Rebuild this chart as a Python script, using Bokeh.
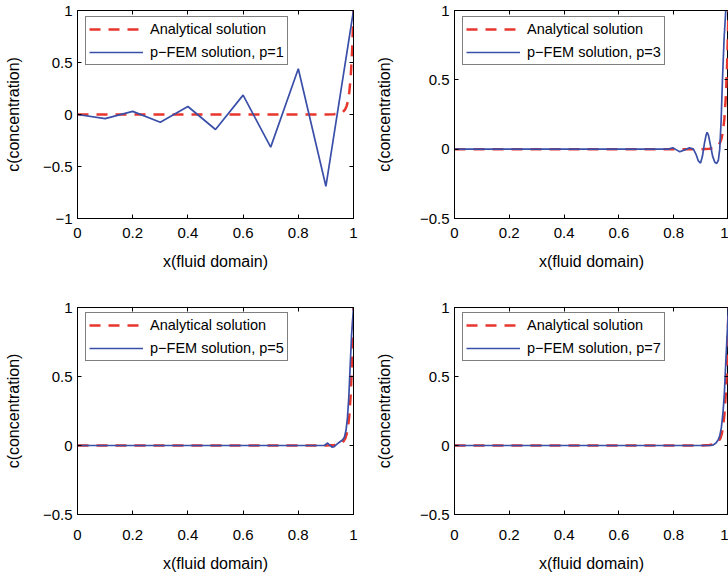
from bokeh.plotting import figure
from bokeh.layouts import gridplot
from bokeh.models import FixedTicker, LinearAxis, Legend, LegendItem, Range1d
from bokeh.embed import file_html
from bokeh.resources import INLINE

FONT = "Liberation Sans"

# ---------------- data ----------------
x_ticks = [0, 0.2, 0.4, 0.6, 0.8, 1.0]
x_tick_labels = ["0", "0.2", "0.4", "0.6", "0.8", "1"]
y_ticks_p1 = [-1, -0.5, 0, 0.5, 1]
y_tick_labels_p1 = ["\u22121", "\u22120.5", "0", "0.5", "1"]
y_ticks = [-0.5, 0, 0.5, 1]
y_tick_labels = ["\u22120.5", "0", "0.5", "1"]

x_exact = [0, 0.90, 0.93, 0.95, 0.96, 0.97, 0.975, 0.98, 0.985, 0.99, 0.995, 1.0]
c_exact = [0, 0.0, 0.003, 0.01, 0.02, 0.05, 0.08, 0.13, 0.22, 0.37, 0.61, 1.0]

x_p1 = [0, 0.1, 0.2, 0.3, 0.4, 0.5, 0.6, 0.7, 0.8, 0.9, 1.0]
c_p1 = [0, -0.04, 0.03, -0.074, 0.077, -0.144, 0.186, -0.314, 0.44, -0.69, 1.0]

x_p3 = [0, 0.78, 0.797, 0.81, 0.822, 0.84, 0.858, 0.872, 0.882, 0.89, 0.898,
        0.905, 0.912, 0.918, 0.922, 0.927, 0.934, 0.942, 0.95, 0.957, 0.963,
        0.968, 0.973, 0.978, 0.984, 0.99, 1.0]
c_p3 = [0, 0, 0.01, -0.005, -0.019, -0.005, 0.01, 0.0, -0.04, -0.085, -0.10,
        -0.05, 0.04, 0.10, 0.122, 0.10, 0.03, -0.05, -0.095, -0.103, -0.08,
        0.0, 0.2, 0.5, 0.8, 1.0, 1.0]

x_p5 = [0, 0.895, 0.905, 0.913, 0.922, 0.93, 0.94, 0.95, 0.96, 0.967, 0.973,
        0.978, 0.983, 0.988, 0.993, 1.0]
c_p5 = [0, 0, 0.018, 0.005, -0.012, -0.008, 0.01, 0.025, 0.04, 0.06, 0.11,
        0.2, 0.35, 0.58, 0.8, 1.0]

x_p7 = [0, 0.935, 0.945, 0.955, 0.962, 0.968, 0.974, 0.98, 0.985, 0.99, 0.995, 1.0]
c_p7 = [0, 0, 0.005, 0.02, 0.04, 0.07, 0.13, 0.24, 0.38, 0.6, 0.8, 1.0]

exact_label = "Analytical solution"
fem_labels = ["p\u2212FEM solution, p=1", "p\u2212FEM solution, p=3",
              "p\u2212FEM solution, p=5", "p\u2212FEM solution, p=7"]

RED = "#e8362c"
BLUE = "#3a4fa8"


def make_panel(col, row, ylo, yt, ytl, xf, cf, flabel):
    p = figure(
        width=364, height=287,
        x_range=Range1d(0, 1), y_range=Range1d(ylo, 1),
        output_backend="svg", toolbar_location=None,
        min_border_left=77 if col == 0 else 90,
        min_border_right=11 if col == 0 else 0,
        min_border_top=10 if row == 0 else 20,
        min_border_bottom=69 if row == 0 else 59,
    )
    p.grid.visible = False
    p.outline_line_color = "black"
    p.background_fill_color = "white"
    p.border_fill_color = "white"

    xa = p.xaxis[0]
    xa.ticker = FixedTicker(ticks=x_ticks)
    xa.major_label_overrides = dict(zip(x_ticks, x_tick_labels))
    xa.axis_label = "x(fluid domain)"
    xa.major_label_standoff = 9 if row == 0 else 15
    xa.axis_label_standoff = 12

    ya = p.yaxis[0]
    ya.ticker = FixedTicker(ticks=yt)
    ya.major_label_overrides = dict(zip(yt, ytl))
    ya.axis_label = "c(concentration)"
    ya.major_label_standoff = 5
    ya.axis_label_standoff = 18 if col == 0 else 24

    for ax in (xa, ya):
        ax.major_tick_in = 4
        ax.major_tick_out = 0
        ax.minor_tick_line_color = None
        ax.axis_line_color = "black"
        ax.major_tick_line_color = "black"
        ax.major_label_text_font = FONT
        ax.major_label_text_font_size = "15px"
        ax.major_label_text_color = "black"
        ax.axis_label_text_font = FONT
        ax.axis_label_text_font_size = "16px"
        ax.axis_label_text_font_style = "normal"
        ax.axis_label_text_color = "black"

    top_ax = LinearAxis(ticker=FixedTicker(ticks=x_ticks),
                        major_label_overrides={t: "" for t in x_ticks},
                        major_label_text_font_size="1px", major_label_standoff=0,
                        major_tick_in=4, major_tick_out=0,
                        minor_tick_line_color=None, axis_line_color="black")
    p.add_layout(top_ax, "above")
    right_ax = LinearAxis(ticker=FixedTicker(ticks=yt),
                          major_label_overrides={t: "" for t in yt},
                          major_label_text_font_size="1px", major_label_standoff=0,
                          major_tick_in=4, major_tick_out=0,
                          minor_tick_line_color=None, axis_line_color="black")
    p.add_layout(right_ax, "right")

    r_exact = p.line(x_exact, c_exact, line_color=RED, line_width=2.5,
                     line_dash="11 8")
    r_fem = p.line(xf, cf, line_color=BLUE, line_width=1.7)

    legend = Legend(
        items=[LegendItem(label=exact_label, renderers=[r_exact]),
               LegendItem(label=flabel, renderers=[r_fem])],
        location=(8, 153),
        padding=3, spacing=5, margin=0,
        label_height=18, glyph_height=18, glyph_width=54, label_standoff=7,
        label_text_font=FONT, label_text_font_size="14.5px", label_text_color="black",
        border_line_color="black", border_line_width=1,
        background_fill_color="white", background_fill_alpha=1.0,
    )
    p.add_layout(legend)
    return p


p1 = make_panel(0, 0, -1, y_ticks_p1, y_tick_labels_p1, x_p1, c_p1, fem_labels[0])
p2 = make_panel(1, 0, -0.5, y_ticks, y_tick_labels, x_p3, c_p3, fem_labels[1])
p3 = make_panel(0, 1, -0.5, y_ticks, y_tick_labels, x_p5, c_p5, fem_labels[2])
p4 = make_panel(1, 1, -0.5, y_ticks, y_tick_labels, x_p7, c_p7, fem_labels[3])

grid = gridplot([[p1, p2], [p3, p4]], toolbar_location=None)

open("out.html", "w").write(file_html(grid, INLINE))
